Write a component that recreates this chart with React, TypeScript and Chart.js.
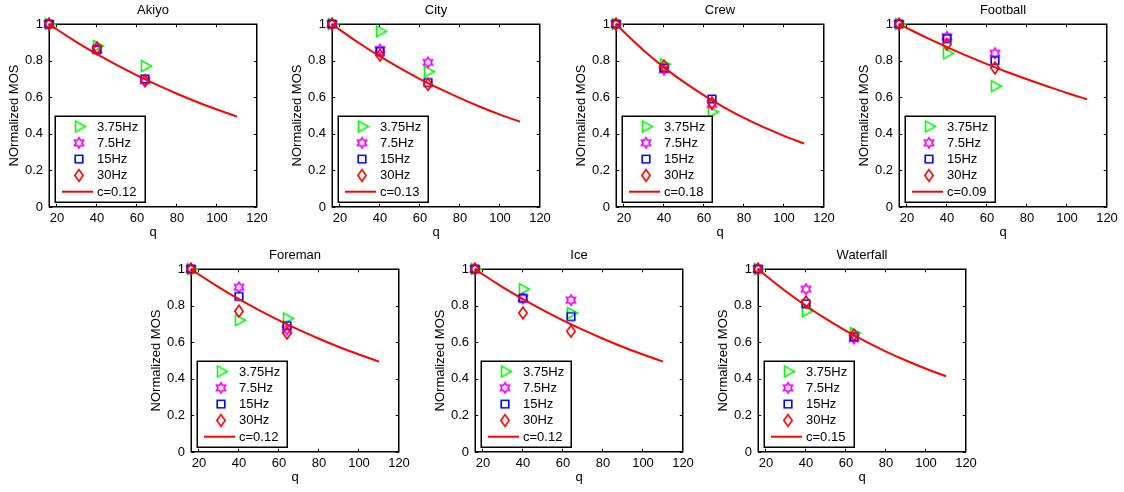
import React, { useEffect, useRef } from "react";
import { Chart, registerables } from "chart.js";

Chart.register(...registerables);

// ---------- data ----------
const qPoints = [16, 40, 64];
const curveQ = [16, 20, 30, 40, 50, 60, 70, 80, 90, 100, 110];
const xTickValues = [20, 40, 60, 80, 100, 120];
const yTickValues = [0, 0.2, 0.4, 0.6, 0.8, 1];
const yTickLabels = ["0", "0.2", "0.4", "0.6", "0.8", "1"];
const seriesLabels = ["3.75Hz", "7.5Hz", "15Hz", "30Hz"];

const akiyo375 = [1, 0.88, 0.77];
const akiyo75 = [1, 0.86, 0.69];
const akiyo15 = [1, 0.86, 0.7];
const akiyo30 = [1, 0.87, 0.69];
const akiyoFit = [1, 0.97, 0.9, 0.835, 0.775, 0.719, 0.667, 0.619, 0.574, 0.533, 0.494];

const city375 = [1, 0.96, 0.74];
const city75 = [1, 0.86, 0.79];
const city15 = [1, 0.85, 0.68];
const city30 = [1, 0.83, 0.67];
const cityFit = [1, 0.968, 0.892, 0.823, 0.759, 0.699, 0.645, 0.595, 0.548, 0.505, 0.466];

const crew375 = [1, 0.78, 0.52];
const crew75 = [1, 0.75, 0.56];
const crew15 = [1, 0.76, 0.59];
const crew30 = [1, 0.77, 0.57];
const crewFit = [1, 0.956, 0.854, 0.763, 0.682, 0.61, 0.545, 0.487, 0.435, 0.389, 0.347];

const football375 = [1, 0.84, 0.66];
const football75 = [1, 0.93, 0.84];
const football15 = [1, 0.92, 0.8];
const football30 = [1, 0.89, 0.76];
const footballFit = [1, 0.978, 0.924, 0.874, 0.826, 0.781, 0.738, 0.698, 0.66, 0.623, 0.589];

const foreman375 = [1, 0.72, 0.73];
const foreman75 = [1, 0.9, 0.67];
const foreman15 = [1, 0.85, 0.69];
const foreman30 = [1, 0.77, 0.65];
const foremanFit = [1, 0.97, 0.9, 0.835, 0.775, 0.719, 0.667, 0.619, 0.574, 0.533, 0.494];

const ice375 = [1, 0.89, 0.76];
const ice75 = [1, 0.84, 0.83];
const ice15 = [1, 0.84, 0.74];
const ice30 = [1, 0.76, 0.66];
const iceFit = [1, 0.97, 0.9, 0.835, 0.775, 0.719, 0.667, 0.619, 0.574, 0.533, 0.494];

const waterfall375 = [1, 0.77, 0.65];
const waterfall75 = [1, 0.89, 0.62];
const waterfall15 = [1, 0.81, 0.63];
const waterfall30 = [1, 0.82, 0.64];
const waterfallFit = [1, 0.963, 0.877, 0.799, 0.727, 0.662, 0.603, 0.549, 0.5, 0.455, 0.414];

// ---------- styles ----------
const GREEN = "#00ff00";
const MAGENTA = "#ff00ff";
const BLUE = "#0000ff";
const RED = "#ff0000";
const FONT = "'Liberation Sans', Arial, Helvetica, sans-serif";

Chart.defaults.font.family = FONT;
Chart.defaults.font.size = 13;
Chart.defaults.color = "#000";

const CW = 273;
const CH = 240;

function makeMarker(kind: string, color: string): HTMLCanvasElement {
  const c = document.createElement("canvas");
  c.width = 18;
  c.height = 18;
  const ctx = c.getContext("2d")!;
  const cx = 9;
  const cy = 9;
  ctx.strokeStyle = color;
  ctx.lineWidth = 1.6;
  ctx.lineJoin = "miter";
  ctx.beginPath();
  if (kind === "tri") {
    ctx.moveTo(cx - 3.5, cy - 5.5);
    ctx.lineTo(cx - 3.5, cy + 5.5);
    ctx.lineTo(cx + 6.5, cy);
    ctx.closePath();
  } else if (kind === "hex") {
    for (let k = 0; k < 12; k++) {
      const r = k % 2 === 0 ? 5.2 : 3;
      const a = -Math.PI / 2 + (k * Math.PI) / 6;
      const px = cx + r * Math.cos(a);
      const py = cy + r * Math.sin(a);
      if (k === 0) ctx.moveTo(px, py);
      else ctx.lineTo(px, py);
    }
    ctx.closePath();
  } else if (kind === "sq") {
    ctx.rect(cx - 3.8, cy - 3.8, 7.6, 7.6);
  } else {
    ctx.moveTo(cx, cy - 5.8);
    ctx.lineTo(cx + 4.2, cy);
    ctx.lineTo(cx, cy + 5.8);
    ctx.lineTo(cx - 4.2, cy);
    ctx.closePath();
  }
  ctx.stroke();
  return c;
}

type PanelProps = {
  title: string;
  series: number[][];
  fit: number[];
  fitLabel: string;
  left: number;
  top: number;
};

function Panel({ title, series, fit, fitLabel, left, top }: PanelProps) {
  const ref = useRef<HTMLCanvasElement>(null);
  useEffect(() => {
    const canvas = ref.current;
    if (!canvas) return;
    const markers = [
      makeMarker("tri", GREEN),
      makeMarker("hex", MAGENTA),
      makeMarker("sq", BLUE),
      makeMarker("dia", RED),
    ];
    const datasets: any[] = [
      {
        type: "line",
        label: fitLabel,
        data: curveQ.map((q, i) => ({ x: q, y: fit[i] })),
        borderColor: RED,
        borderWidth: 2,
        pointRadius: 0,
        cubicInterpolationMode: "monotone",
        fill: false,
        clip: false,
        order: 0,
      },
      ...series.map((arr, s) => ({
        type: "scatter",
        label: seriesLabels[s],
        data: qPoints.map((q, i) => ({ x: q, y: arr[i] })),
        pointStyle: markers[s],
        pointRadius: 5,
        pointHoverRadius: 5,
        showLine: false,
        clip: false,
        order: 4 - s,
      })),
    ];

    const framePlugin = {
      id: "frame",
      beforeDatasetsDraw(chart: any) {
        const { ctx, chartArea: a, scales } = chart;
        const xs = scales.x;
        const ys = scales.y;
        ctx.save();
        ctx.strokeStyle = "#000";
        ctx.lineWidth = 1.5;
        const l = Math.round(a.left) + 0.25;
        const r = Math.round(a.right) - 0.25;
        const t = Math.round(a.top) + 0.25;
        const b = Math.round(a.bottom) - 0.25;
        ctx.strokeRect(l, t, r - l, b - t);
        ctx.beginPath();
        const tk = 3;
        xTickValues.forEach((v) => {
          const px = Math.round(xs.getPixelForValue(v)) - 0.5;
          ctx.moveTo(px, b);
          ctx.lineTo(px, b - tk);
          ctx.moveTo(px, t);
          ctx.lineTo(px, t + tk);
        });
        yTickValues.forEach((v) => {
          const py = Math.round(ys.getPixelForValue(v)) + 0.5;
          ctx.moveTo(l, py);
          ctx.lineTo(l + tk, py);
          ctx.moveTo(r, py);
          ctx.lineTo(r - tk, py);
        });
        ctx.lineWidth = 1;
        ctx.stroke();
        ctx.restore();
      },
    };

    const legendPlugin = {
      id: "boxLegend",
      afterDatasetsDraw(chart: any) {
        const { ctx, chartArea: a } = chart;
        const bw = 90;
        const bh = 86;
        const bx = Math.round(a.left) + 6;
        const by = Math.round(a.bottom) - 5 - bh;
        ctx.save();
        ctx.fillStyle = "#fff";
        ctx.fillRect(bx, by, bw, bh);
        ctx.strokeStyle = "#000";
        ctx.lineWidth = 1.5;
        ctx.strokeRect(bx + 0.25, by + 0.25, bw, bh);
        ctx.font = `13px ${FONT}`;
        ctx.fillStyle = "#000";
        ctx.textBaseline = "middle";
        ctx.textAlign = "left";
        const rowY = (i: number) => by + 10.5 + i * 16.3;
        for (let s = 0; s < 4; s++) {
          const img = markers[s];
          const y = rowY(s);
          ctx.drawImage(img, bx + 24 - img.width / 2, y - img.height / 2);
          ctx.fillText(seriesLabels[s], bx + 42, y + 0.5);
        }
        const ly = rowY(4);
        ctx.strokeStyle = RED;
        ctx.lineWidth = 2;
        ctx.beginPath();
        ctx.moveTo(bx + 7, ly);
        ctx.lineTo(bx + 38, ly);
        ctx.stroke();
        ctx.fillText(fitLabel, bx + 42, ly + 0.5);
        ctx.restore();
      },
    };

    const chart = new Chart(canvas, {
      type: "scatter",
      data: { datasets },
      options: {
        responsive: false,
        animation: false,
        devicePixelRatio: 1,
        events: [],
        layout: { padding: { left: 0, right: 16, top: 0, bottom: 0 } },
        plugins: {
          legend: { display: false },
          tooltip: { enabled: false },
          title: {
            display: true,
            text: title,
            fullSize: false,
            color: "#000",
            font: { size: 13, weight: "400", family: FONT },
            padding: { top: 2.5, bottom: 5.9 },
          },
        },
        scales: {
          x: {
            type: "linear",
            min: 16,
            max: 120,
            grid: { display: false, drawTicks: false },
            border: { display: false },
            ticks: { autoSkip: false, maxRotation: 0, padding: 4, color: "#000", font: { size: 13 } },
            afterBuildTicks: (s: any) => {
              s.ticks = xTickValues.map((v) => ({ value: v }));
            },
            afterFit: (s: any) => {
              s.height = 33;
              s.paddingLeft = 0;
              s.paddingRight = 0;
            },
            title: {
              display: true,
              text: "q",
              color: "#000",
              font: { size: 13 },
              padding: { top: 0, bottom: 0 },
            },
          },
          y: {
            type: "linear",
            min: 0,
            max: 1,
            grid: { display: false, drawTicks: false },
            border: { display: false },
            ticks: {
              autoSkip: false,
              padding: 6,
              color: "#000",
              font: { size: 13 },
              callback: (_v: any, i: number) => yTickLabels[i],
            },
            afterBuildTicks: (s: any) => {
              s.ticks = yTickValues.map((v) => ({ value: v }));
            },
            afterFit: (s: any) => {
              s.width = 49;
              s.paddingTop = 0;
              s.paddingBottom = 0;
            },
            title: {
              display: true,
              text: "NOrmalized MOS",
              color: "#000",
              font: { size: 13 },
              padding: { top: 6.5, bottom: 0 },
            },
          },
        },
      } as any,
      plugins: [framePlugin, legendPlugin],
    });
    return () => chart.destroy();
  }, [title, series, fit, fitLabel]);

  return (
    <canvas
      ref={ref}
      width={CW}
      height={CH}
      style={{ position: "absolute", left, top, width: CW, height: CH }}
    />
  );
}

const panels: PanelProps[] = [
  { title: "Akiyo", series: [akiyo375, akiyo75, akiyo15, akiyo30], fit: akiyoFit, fitLabel: "c=0.12", left: 0, top: 0 },
  { title: "City", series: [city375, city75, city15, city30], fit: cityFit, fitLabel: "c=0.13", left: 283, top: 0 },
  { title: "Crew", series: [crew375, crew75, crew15, crew30], fit: crewFit, fitLabel: "c=0.18", left: 567, top: 0 },
  { title: "Football", series: [football375, football75, football15, football30], fit: footballFit, fitLabel: "c=0.09", left: 850, top: 0 },
  { title: "Foreman", series: [foreman375, foreman75, foreman15, foreman30], fit: foremanFit, fitLabel: "c=0.12", left: 142, top: 245 },
  { title: "Ice", series: [ice375, ice75, ice15, ice30], fit: iceFit, fitLabel: "c=0.12", left: 426, top: 245 },
  { title: "Waterfall", series: [waterfall375, waterfall75, waterfall15, waterfall30], fit: waterfallFit, fitLabel: "c=0.15", left: 709, top: 245 },
];

export default function App() {
  return (
    <div
      style={{
        position: "absolute",
        left: 0,
        top: 0,
        width: 1124,
        height: 492,
        background: "#fff",
        overflow: "hidden",
      }}
    >
      {panels.map((p) => (
        <Panel key={p.title} {...p} />
      ))}
    </div>
  );
}
